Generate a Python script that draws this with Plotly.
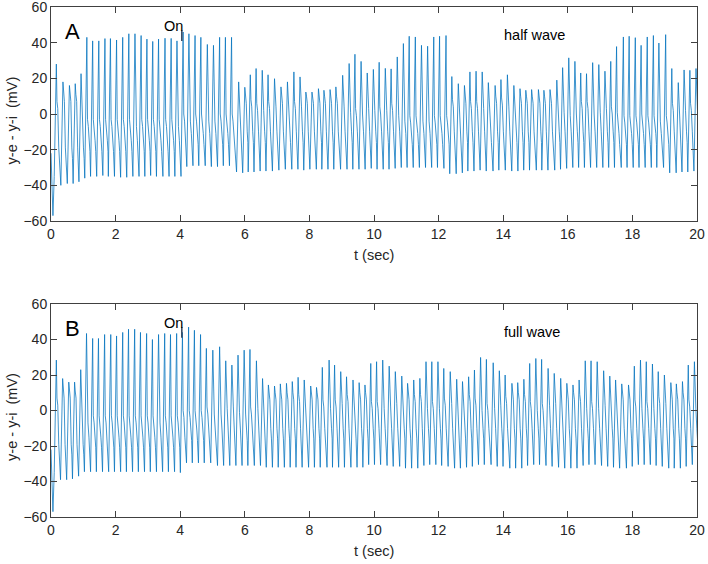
import plotly.graph_objects as go

# ---------------- Panel A (half wave) ----------------
a_start_t = [0.0, 0.06]
a_start_v = [-22, -57]
a_peak_t = [0.165, 0.37, 0.57, 0.75, 0.93, 1.11, 1.29, 1.48, 1.67, 1.84,
            2.03, 2.22, 2.41, 2.60, 2.79, 2.97, 3.15, 3.33, 3.53, 3.72,
            3.90, 4.09, 4.27, 4.46, 4.64, 4.84, 5.03, 5.22, 5.40, 5.59,
            5.81, 6.00, 6.17, 6.35, 6.54, 6.72, 6.92, 7.12, 7.32, 7.52,
            7.71, 7.89, 8.08, 8.28, 8.45, 8.64, 8.82, 9.03, 9.23, 9.41,
            9.60, 9.79, 9.98, 10.16, 10.35, 10.53, 10.72, 10.91, 11.09, 11.28,
            11.47, 11.66, 11.85, 12.03, 12.23, 12.41, 12.61, 12.80, 12.97, 13.16,
            13.35, 13.54, 13.75, 13.93, 14.13, 14.33, 14.52, 14.70, 14.88, 15.09,
            15.26, 15.45, 15.66, 15.84, 16.03, 16.22, 16.40, 16.58, 16.77, 16.96,
            17.15, 17.33, 17.51, 17.72, 17.90, 18.09, 18.27, 18.46, 18.65, 18.82,
            19.03, 19.22, 19.42, 19.60, 19.78, 19.97]
a_peak_v = [28, 18, 16, 17, 22.6, 43, 41, 41, 42.3, 42.3,
            41.5, 43, 45, 45, 44, 42, 40.7, 42, 42.5, 42.4,
            41, 46, 45, 44, 43, 39, 38.5, 43, 43, 43,
            18, 15, 22, 25.5, 24.5, 22, 19.8, 15.2, 18, 23.6,
            20.8, 12.3, 12.3, 14.2, 13.3, 13.7, 15.2, 21.7, 28.3, 33.5,
            29.5, 23, 25, 29, 25.6, 25.3, 32, 39.5, 43.6, 43.2,
            38.5, 38, 43.2, 43.6, 44, 21, 17, 16, 23.6, 24,
            23.6, 17.6, 16, 19.3, 22, 16, 14.2, 13.3, 13.7, 13.7,
            13.3, 13.7, 19, 26, 31.5, 29.5, 23, 22.6, 28.8, 27.7,
            24, 29.5, 37.8, 43.2, 43.6, 42.8, 38.5, 43.2, 44, 39.8,
            44.5, 25.5, 17.6, 24.7, 24.5, 25.5]
a_trough_v = [-35, -40, -39, -39, -38, -36,
              -35, -35, -34.5, -35, -35, -35.5, -35.5, -35, -35, -35, -34.5, -35, -35, -35, -35,
              -35,
              -29.5, -29, -29, -29, -29.5, -29.5, -29, -29,
              -32.5, -33, -32.5, -32.5, -32, -32, -32,
              -31.5, -31, -31, -31, -31.5, -31, -31, -31, -31, -31, -31, -31, -31, -31, -31, -30.5, -31, -31, -31,
              -30.5, -30, -30, -30, -30, -30, -30, -30, -30.5,
              -33.5, -33.5, -33,
              -32, -32, -31.5, -32, -32, -31.5, -31.5, -32, -32, -31.5, -31.5, -31.5, -31.5, -31.5, -31.5,
              -31, -30.5, -30, -30, -30, -30, -30, -30, -30, -30, -30, -30, -30, -30, -30, -30, -30, -30,
              -33, -33, -32.5, -32.5, -32]
a_shoulder_v = [5, 9, 9, 9, 7,
                -5, -5, -5, -5, -5, -5, -5, -5, -5, -5, -5, -5, -5, -5, -5, -5,
                -2, -2, -2, -2, -2, -2, -2, -2, -2,
                8, 8, 6, 4, 4, 5, 6,
                8, 7, 5, 6, 8, 8, 8, 8, 8, 8,
                6, 3, 1, 2, 5, 4, 2, 4, 4,
                1, -2, -3, -3, -2, -2, -3, -3, -3,
                6, 7, 8, 5, 5, 5, 7, 8, 7, 6, 8, 8, 8, 8, 8, 8, 8, 7,
                3, 1, 2, 5, 5, 2, 3, 5, 2, -1, -3, -3, -3, -2, -3, -3, -2, -3,
                4, 7, 4, 4, 4]
a_hump_v = [-22, -22, -22, -22, -22,
            -18, -18, -18, -18, -18, -18, -18, -18, -18, -18, -18, -18, -18, -18, -18, -18, -18,
            -14, -14, -14, -14, -14, -14, -14, -14,
            -13, -13, -13, -13, -13, -13, -13, -13, -13, -13, -13, -13, -13, -13, -13, -13, -13, -13,
            -13, -13, -13, -13, -13, -13, -13, -13, -13, -14, -14, -14, -14, -14, -14, -14, -14, -13,
            -13, -13, -13, -13, -13, -13, -13, -13, -13, -13, -13, -13, -13, -13, -13, -13, -13, -13,
            -13, -13, -13, -13, -13, -13, -13, -13, -14, -14, -14, -14, -14, -14, -14, -14, -14, -13,
            -13, -13, -13, -13]

# ---------------- Panel B (full wave) ----------------
b_start_t = [0.0, 0.06]
b_start_v = [-22, -57]
b_peak_t = [0.165, 0.36, 0.55, 0.73, 0.92, 1.10, 1.29, 1.47, 1.66, 1.85,
            2.03, 2.22, 2.40, 2.59, 2.77, 2.96, 3.14, 3.33, 3.52, 3.70,
            3.89, 4.07, 4.26, 4.44, 4.63, 4.81, 5.01, 5.22, 5.41, 5.60,
            5.79, 5.98, 6.16, 6.36, 6.55, 6.73, 6.92, 7.10, 7.29, 7.47,
            7.65, 7.84, 8.04, 8.22, 8.40, 8.61, 8.78, 8.97, 9.15, 9.35,
            9.54, 9.72, 9.90,
            10.08, 10.27, 10.47, 10.66, 10.86, 11.04, 11.23, 11.42, 11.61, 11.79,
            11.98, 12.16, 12.36, 12.56, 12.74, 12.93, 13.11, 13.30, 13.48, 13.69,
            13.88, 14.06, 14.27, 14.45, 14.64, 14.82, 15.01, 15.19, 15.39, 15.58,
            15.78, 15.97, 16.16, 16.35, 16.54, 16.72, 16.91, 17.11, 17.30, 17.48,
            17.67, 17.88, 18.06, 18.25, 18.43, 18.62, 18.80, 18.99, 19.19, 19.36,
            19.55, 19.73, 19.92]
b_peak_v = [28.4, 18, 16, 16, 23, 43.4, 40.6, 40.6, 42.8, 42.8,
            42, 44, 45.8, 45.8, 44, 43.4, 40, 42.8, 43.4, 42.8,
            43.4, 44, 47, 45.2, 42.8, 35, 34, 35.9, 28, 25.6,
            31.2, 34, 34.4, 28, 18, 14.4, 13.8, 15, 15.3, 16.3,
            18.7, 17.2, 13.8, 13, 24.3, 28.4, 25.6, 21.9, 19, 17.2,
            15.7, 14.4, 26.5,
            27.5, 28.4, 25, 21.9, 19.4, 15.3, 17.2, 18.1, 27.5, 27.5,
            27.5, 23.7, 21.9, 17.6, 16.3, 19, 22.8, 29.9, 28.8, 26.9,
            22.4, 20, 15.3, 15.7, 17.6, 26.5, 29.3, 28.8, 23.7, 20.9,
            18.1, 15.3, 14.4, 17.2, 28, 28, 27.5, 22.4, 19.4, 17.2,
            15, 14.4, 25, 28.4, 27.5, 26.2, 21.9, 20, 15.7, 15,
            16.3, 25.6, 27.5]
b_trough_v = [-35, -39, -39, -38.5, -37,
              -34.5, -34.5, -34.5, -34.5, -34.5, -34.5, -34.5, -34.5, -34.5, -34.5, -34.5, -34.5, -34.5, -34.5, -34.5, -34.5,
              -35,
              -29.5, -29.5, -29.5, -29.5, -29.5,
              -31, -31, -31, -31, -31, -31, -31, -31,
              -32, -32, -32, -32, -32, -32, -32, -32, -32, -32, -32, -32, -32, -32, -32, -32, -32,
              -30.5,
              -30.5, -30.5, -31, -31.5, -31.5, -32.5, -32.5, -32.5, -31, -30.5,
              -30.5, -31, -31.5, -32.5, -32.5, -32, -31.5, -30.5, -30.5, -30.5,
              -31.5, -31.5, -32.5, -32.5, -32.5, -31, -30.5, -30.5, -31, -31.5,
              -32, -32.5, -32.5, -32.5, -31, -30.5, -30.5, -31, -31.5, -32,
              -32.5, -32.5, -31.5, -30.5, -30.5, -30.5, -31, -31.5, -32.5, -32.5,
              -32.5, -31.5, -30.5]
b_shoulder_v = [5, 9, 9, 9, 7,
                -5, -5, -5, -5, -5, -5, -5, -5, -5, -5, -5, -5, -5, -5, -5, -5,
                -2, -2, -2, -2,
                0, 0, 0, 3, 4, 1, 0, 0, 3, 7,
                8, 8, 8, 8, 8, 7, 8, 8, 8,
                4, 3, 4, 6, 7, 8, 8, 8, 3,
                3, 3, 4, 6, 7, 8, 7, 7, 3, 3,
                3, 5, 6, 7, 8, 7, 5, 2, 2, 3,
                5, 6, 8, 8, 7, 3, 2, 2, 5, 6,
                7, 8, 8, 7, 3, 3, 3, 5, 7, 7,
                8, 8, 4, 3, 3, 3, 6, 6, 8, 8,
                8, 4, 3]
b_hump_v = [-22, -22, -22, -22, -22,
            -18, -18, -18, -18, -18, -18, -18, -18, -18, -18, -18, -18, -18, -18, -18, -18, -18,
            -14, -14, -14, -14, -14, -14, -14, -14, -14, -14, -14, -14,
            -13, -13, -13, -13, -13, -13, -13, -13, -13, -13, -13, -13, -13, -13, -13, -13, -13, -13,
            -13, -13, -13, -13, -13, -13, -13, -13, -13, -13, -13, -13, -13, -13, -13, -13, -13, -13,
            -13, -13, -13, -13, -13, -13, -13, -13, -13, -13, -13, -13, -13, -13, -13, -13, -13, -13,
            -13, -13, -13, -13, -13, -13, -13, -13, -13, -13, -13, -13, -13, -13, -13, -13, -13, -13]

x_ticks = [0, 2, 4, 6, 8, 10, 12, 14, 16, 18, 20]
y_ticks = [-60, -40, -20, 0, 20, 40, 60]
panel_labels = ["A", "B"]
panel_notes = ["half wave", "full wave"]
onset_label = "On"
x_title = "t (sec)"
y_title = "y-e - y-i  (mV)"

# waveform template within one cycle (relative to each peak time)
REL_T = [-0.065, 0.0, 0.02, 0.045, 0.075, 0.095]


def build(start_t, start_v, pk_t, pk_v, tr_v, sh_v, hu_v):
    t = list(start_t)
    v = list(start_v)
    for i in range(len(pk_t)):
        tp = pk_t[i]
        vals = [tr_v[i], pk_v[i], sh_v[i] + 2, sh_v[i] - 2, hu_v[i] + 3, hu_v[i] - 3]
        for dt, val in zip(REL_T, vals):
            t.append(tp + dt)
            v.append(val)
    return t, v


ta, va = build(a_start_t, a_start_v, a_peak_t, a_peak_v, a_trough_v, a_shoulder_v, a_hump_v)
tb, vb = build(b_start_t, b_start_v, b_peak_t, b_peak_v, b_trough_v, b_shoulder_v, b_hump_v)

LINE = "#0072BD"
AX = "#404040"
FONT = "Liberation Sans, Arial, Helvetica, sans-serif"
TXT = 14.5

fig = go.Figure()
fig.add_trace(go.Scatter(x=ta, y=va, mode="lines", line=dict(color=LINE, width=0.75),
                         xaxis="x", yaxis="y", showlegend=False, hoverinfo="skip"))
fig.add_trace(go.Scatter(x=tb, y=vb, mode="lines", line=dict(color=LINE, width=0.75),
                         xaxis="x2", yaxis="y2", showlegend=False, hoverinfo="skip"))

W, H = 708, 564
ml, mr, mt, mb = 51, 11, 7, 47
ph = H - mt - mb
dom_a = [(H - mb - 221) / ph, 1.0]
dom_b = [0.0, (H - mb - 304) / ph]

axis_common = dict(range=[0, 20], tickvals=x_ticks, ticks="inside", ticklen=6, tickcolor=AX,
                   showline=True, linecolor=AX, linewidth=1, mirror="ticks", automargin=False,
                   ticklabeloverflow="allow",
                   showgrid=False, zeroline=False, tickfont=dict(size=14, color="#262626", family=FONT))
yaxis_common = dict(range=[-60, 60], tickvals=y_ticks, ticks="inside", ticklen=6, tickcolor=AX,
                    showline=True, linecolor=AX, linewidth=1, mirror="ticks", automargin=False,
                    ticklabeloverflow="allow",
                    showgrid=False, zeroline=False, tickfont=dict(size=14, color="#262626", family=FONT))

fig.update_layout(
    width=W, height=H,
    margin=dict(l=ml, r=mr, t=mt, b=mb),
    paper_bgcolor="white", plot_bgcolor="white",
    font=dict(family=FONT, color="#262626"),
    xaxis=dict(domain=[0, 1], anchor="y", **axis_common),
    yaxis=dict(domain=dom_a, anchor="x", **yaxis_common),
    xaxis2=dict(domain=[0, 1], anchor="y2", **axis_common),
    yaxis2=dict(domain=dom_b, anchor="x2", **yaxis_common),
)

for i, (xr, yr) in enumerate([("x", "y"), ("x2", "y2")]):
    fig.add_annotation(x=0.38, y=46, xref=xr, yref=yr, text=panel_labels[i], showarrow=False,
                       xanchor="left", yanchor="middle", font=dict(size=22, color="black", family=FONT))
    fig.add_annotation(x=3.45, y=49.5, xref=xr, yref=yr, text=onset_label, showarrow=False,
                       xanchor="left", yanchor="middle", font=dict(size=TXT, color="black", family=FONT))
    fig.add_annotation(x=13.95, y=44.5, xref=xr, yref=yr, text=panel_notes[i], showarrow=False,
                       xanchor="left", yanchor="middle", font=dict(size=TXT, color="black", family=FONT))
    fig.add_shape(type="line", x0=4.05, x1=4.05, y0=41, y1=47, xref=xr, yref=yr,
                  line=dict(color="#3a4e66", width=1.6))
    fig.add_annotation(x=0.5, y=-34 / 214, xref=xr + " domain", yref=yr + " domain", text=x_title,
                       showarrow=False, xanchor="center", yanchor="middle",
                       font=dict(size=TXT, color="#262626", family=FONT))
    fig.add_annotation(x=(12 - ml) / (W - ml - mr), y=0.47, xref="paper", yref=yr + " domain",
                       text=y_title, textangle=-90, showarrow=False, xanchor="center", yanchor="middle",
                       font=dict(size=TXT, color="#262626", family=FONT))

fig.write_html("out.html", config={"displayModeBar": False},
               post_script="document.body.style.margin='0';document.body.style.overflow='hidden';")
